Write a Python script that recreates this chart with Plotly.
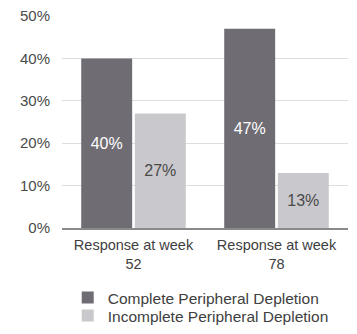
import plotly.graph_objects as go

categories = ["Response at week<br>52", "Response at week<br>78"]
complete_pct = [40, 47]
incomplete_pct = [27, 13]
series_names = ["Complete Peripheral Depletion", "Incomplete Peripheral Depletion"]
tick_values = [0, 10, 20, 30, 40, 50]
tick_labels = [f"{v}%" for v in tick_values]

FONT = "Liberation Sans, Arial, sans-serif"
DARK = "#6f6c74"
LIGHT = "#c9c8cc"

fig = go.Figure()
fig.add_trace(go.Bar(
    x=categories, y=complete_pct, name=series_names[0], legend="legend",
    marker=dict(color=DARK, line=dict(width=0)),
    text=[f"{v}%" for v in complete_pct], textposition="inside",
    insidetextanchor="middle", textangle=0,
    textfont=dict(family=FONT, size=16, color="#ffffff"),
))
fig.add_trace(go.Bar(
    x=categories, y=incomplete_pct, name=series_names[1], legend="legend2",
    marker=dict(color=LIGHT, line=dict(width=0)),
    text=[f"{v}%" for v in incomplete_pct], textposition="inside",
    insidetextanchor="middle", textangle=0,
    textfont=dict(family=FONT, size=16, color="#4a4a4a"),
))

legend_style = dict(
    xanchor="left", yanchor="middle", x=0.02,
    font=dict(family=FONT, size=15.5, color="#404040"),
    itemwidth=30, bgcolor="rgba(0,0,0,0)", borderwidth=0,
)

fig.update_layout(
    width=357, height=334,
    margin=dict(l=62, r=9, t=16, b=106, autoexpand=False),
    paper_bgcolor="white", plot_bgcolor="white",
    barmode="group", bargap=0.25, bargroupgap=0.05,
    font=dict(family=FONT, color="#4a4a4a"),
    legend=dict(legend_style, y=-0.33),
    legend2=dict(legend_style, y=-0.415),
    showlegend=True,
)
fig.update_xaxes(
    showgrid=False, showline=True, linecolor="#8a8a8a", linewidth=1.5,
    ticks="", tickfont=dict(family=FONT, size=14.5, color="#404040"),
    ticklabelstandoff=3,
)
fig.update_yaxes(
    range=[0, 50], tickmode="array", tickvals=tick_values, ticktext=tick_labels,
    showgrid=True, gridcolor="#dedede", gridwidth=1,
    zeroline=False, showline=False, ticks="",
    tickfont=dict(family=FONT, size=15, color="#4a4a4a"),
    ticklabelstandoff=11,
)

fig.write_html("out.html")
